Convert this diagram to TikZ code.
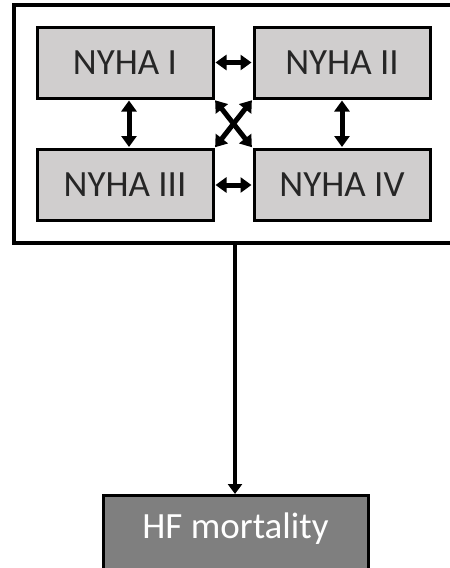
\documentclass[tikz,border=0pt]{standalone}
\usepackage{fontspec}
\setmainfont{Carlito}
\usetikzlibrary{arrows.meta}
\definecolor{boxgray}{HTML}{D0CECE}
\definecolor{darkbox}{HTML}{7F7F7F}
\definecolor{txt}{HTML}{262626}
\tikzset{
  stagebox/.style={draw=black, line width=3pt, fill=boxgray, minimum width=176pt, minimum height=71pt, inner sep=0pt, text=txt, font=\fontsize{37}{42}\selectfont},
  outcomebox/.style={draw=black, line width=3pt, fill=darkbox, minimum width=265pt, minimum height=90pt, inner sep=0pt},
  tipshape/.style={Triangle[length=11pt,width=15pt]},
  link/.style={line width=5pt, {Triangle[length=11pt,width=15pt]}-{Triangle[length=11pt,width=15pt]}, shorten <=1pt, shorten >=1pt},
  oneway/.style={line width=4.5pt, -{Triangle[length=10pt,width=14pt]}},
}
\begin{document}
\begin{tikzpicture}[x=1pt,y=-1pt]
\useasboundingbox (0,0) rectangle (450,568);
\clip (0,0) rectangle (450,568);
\draw[line width=3.5pt] (14,5) rectangle (470,243);
\coordinate (outerbottom) at (235,243);
\node[stagebox] (n1) at (125,62.5) {NYHA I};
\node[stagebox] (n2) at (342,62.5) {NYHA II};
\node[stagebox] (n3) at (125,185) {NYHA III};
\node[stagebox] (n4) at (342,185) {NYHA IV};
\node[outcomebox, anchor=north] (hf) at (235.5,494) {};
\node[text=white, font=\fontsize{37}{42}\selectfont] (hft) at (235.5,529) {HF mortality};
\draw[link] (n1.east) -- (n2.west);
\draw[link] (n3.east) -- (n4.west);
\draw[link] ([xshift=4pt]n1.south) -- ([xshift=4pt]n3.north);
\draw[link] (n2.south) -- (n4.north);
\draw[link] (n1.south east) -- (n4.north west);
\draw[link] (n2.south west) -- (n3.north east);
\draw[oneway] (outerbottom) -- (hf.north -| outerbottom);
\end{tikzpicture}
\end{document}
